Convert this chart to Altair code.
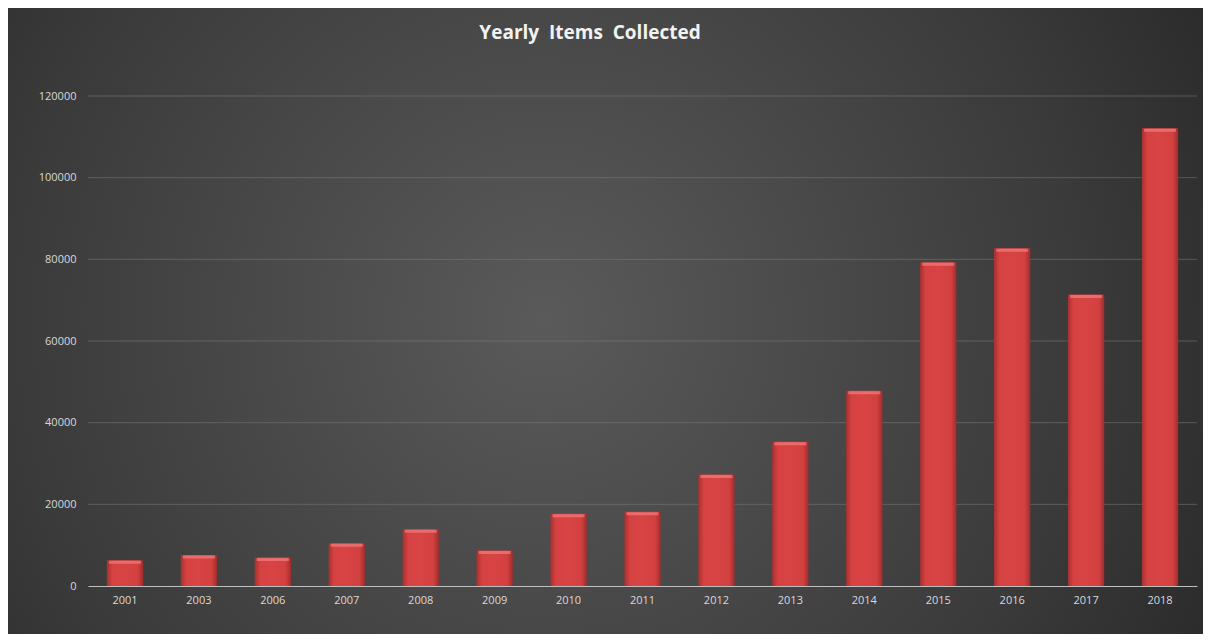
import altair as alt
import pandas as pd

years = ["2001", "2003", "2006", "2007", "2008", "2009", "2010", "2011",
         "2012", "2013", "2014", "2015", "2016", "2017", "2018"]
items = [6300, 7600, 7000, 10450, 13900, 8700, 17700, 18200,
         27300, 35300, 47800, 79300, 82700, 71400, 112100]
y_ticks = [0, 20000, 40000, 60000, 80000, 100000, 120000]
title_text = "Yearly\u00a0 Items\u00a0 Collected"

df = pd.DataFrame({"year": years, "items": items})
grid_df = pd.DataFrame({"v": y_ticks[1:]})

W, H = 1109, 490
PL, PT, PR, PB = 80, 88, 6, 48

FONT = "Open Sans"

bg = alt.Chart(pd.DataFrame({"k": [0]})).mark_rect(
    fill=alt.RadialGradient(
        gradient="radial",
        x1=0.45, y1=0.5, r1=0.0,
        x2=0.45, y2=0.5, r2=0.75,
        stops=[
            alt.GradientStop(color="#5a5a5a", offset=0),
            alt.GradientStop(color="#3a3a3a", offset=0.6),
            alt.GradientStop(color="#1f1f1f", offset=1),
        ],
    ),
    stroke=None,
).encode(
    x=alt.value(-PL), x2=alt.value(W + PR),
    y=alt.value(-PT), y2=alt.value(H + PB),
)

y_scale = alt.Scale(domain=[0, 120000], nice=False)

grid = alt.Chart(grid_df).mark_rule(
    color="#7a7a7a", strokeWidth=0.8, opacity=0.7,
).encode(y=alt.Y("v:Q", scale=y_scale, title=None))

x_enc = alt.X(
    "year:N", sort=years, title=None,
    scale=alt.Scale(paddingInner=0.51, paddingOuter=0.255),
    axis=alt.Axis(labelAngle=0, labelColor="#d9d9d9", labelFont=FONT,
                  labelFontSize=11, ticks=False, domainColor="#bfbfbf",
                  domainWidth=1, labelPadding=8, grid=False, zindex=1),
)
y_enc = alt.Y(
    "items:Q", title=None, scale=y_scale,
    axis=alt.Axis(values=y_ticks, format="d", labelColor="#d9d9d9",
                  labelFont=FONT, labelFontSize=11, ticks=False, domain=False,
                  labelPadding=12, grid=False, zindex=1),
)

bars = alt.Chart(df).mark_bar(
    fill=alt.LinearGradient(
        gradient="linear", x1=0, y1=0, x2=1, y2=0,
        stops=[
            alt.GradientStop(color="#a83030", offset=0),
            alt.GradientStop(color="#d64141", offset=0.15),
            alt.GradientStop(color="#d84444", offset=0.5),
            alt.GradientStop(color="#d34040", offset=0.85),
            alt.GradientStop(color="#a02d2d", offset=1),
        ],
    ),
).encode(x=x_enc, y=y_enc)

bevel = alt.Chart(df).mark_tick(
    color="#f07a7a", thickness=3, size=32, yOffset=2, opacity=0.75,
).encode(x=alt.X("year:N", sort=years), y=alt.Y("items:Q", scale=y_scale))

title = alt.Chart(pd.DataFrame({"t": [title_text]})).mark_text(
    font=FONT, fontSize=19, fontWeight="bold", color="#f2f2f2",
    align="center", baseline="middle",
).encode(text="t:N", x=alt.value(590 - 8 - PL), y=alt.value(33 - 8 - PT))

chart = alt.layer(bg, grid, bars, bevel, title).properties(
    width=W, height=H,
    padding={"left": PL, "top": PT, "right": PR, "bottom": PB},
    autosize=alt.AutoSizeParams(type="none"),
    background="#2a2a2a",
).configure_view(stroke=None)

chart.save("out.html", embed_options={"renderer": "svg", "actions": False})
